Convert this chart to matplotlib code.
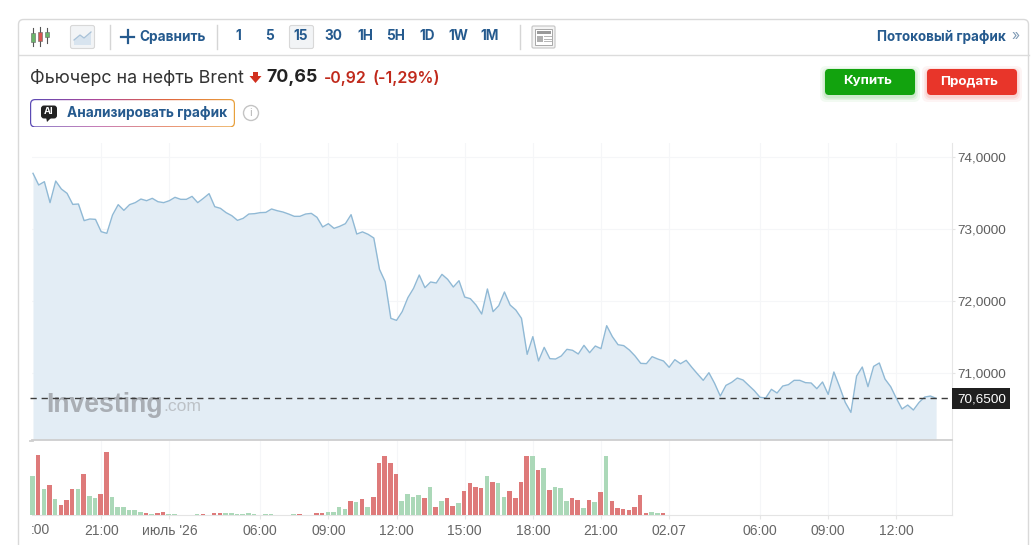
import matplotlib
matplotlib.use("Agg")
import numpy as np
from matplotlib import pyplot as plt
from matplotlib.patches import FancyBboxPatch, Rectangle, Circle, Polygon

W, H = 1031, 545
plt.rcParams['font.family'] = ['Inter', 'DejaVu Sans']

prices = [
    73.773, 73.611, 73.657, 73.366, 73.666, 73.555, 73.495, 73.342, 73.347, 73.116,
    73.139, 73.134, 72.963, 72.940, 73.194, 73.338, 73.259, 73.338, 73.366, 73.416,
    73.393, 73.426, 73.379, 73.366, 73.393, 73.440, 73.412, 73.412, 73.453, 73.366,
    73.426, 73.491, 73.310, 73.287, 73.227, 73.185, 73.120, 73.148, 73.208, 73.213,
    73.227, 73.231, 73.278, 73.254, 73.236, 73.208, 73.176, 73.176, 73.208, 73.217,
    73.162, 73.028, 73.074, 73.009, 73.037, 73.074, 73.199, 72.930, 72.960, 72.926,
    72.875, 72.440, 72.268, 71.759, 71.731, 71.852, 72.046, 72.176, 72.361, 72.185,
    72.264, 72.250, 72.370, 72.301, 72.194, 72.282, 72.055, 72.032, 71.944, 71.819,
    72.167, 71.852, 71.935, 72.125, 71.944, 71.875, 71.759, 71.259, 71.505, 71.167,
    71.356, 71.199, 71.194, 71.236, 71.329, 71.315, 71.264, 71.384, 71.282, 71.375,
    71.338, 71.657, 71.505, 71.393, 71.380, 71.319, 71.236, 71.134, 71.130, 71.227,
    71.194, 71.167, 71.079, 71.185, 71.129, 71.176, 71.078, 70.986, 70.898, 71.004,
    70.856, 70.680, 70.828, 70.870, 70.930, 70.903, 70.828, 70.754, 70.662, 70.653,
    70.773, 70.722, 70.819, 70.838, 70.898, 70.898, 70.866, 70.861, 70.782, 70.875,
    70.703, 71.014, 70.810, 70.592, 70.453, 70.958, 71.083, 70.810, 71.092, 71.139,
    70.916, 70.810, 70.648, 70.500, 70.555, 70.486, 70.592, 70.666, 70.680, 70.648,
]
volumes = [
    114, 177, 75, 87, 46, 29, 42, 75, 75, 120, 55, 48, 62, 187, 53, 21, 22, 12, 12, 8,
    5, 2, 5, 8, 1, 2, 0, 0, 0, 1, 1, 0, 5, 5, 5, 5, 2, 1, 4, 2,
    0, 1, 1, 0, 0, 0, 2, 1, 0, 0, 5, 5, 8, 8, 22, 17, 39, 36, 45, 22,
    53, 154, 174, 154, 120, 39, 62, 52, 59, 49, 82, 22, 39, 49, 26, 33, 69, 93, 83, 80,
    114, 96, 93, 53, 69, 49, 96, 174, 174, 134, 140, 72, 82, 79, 39, 49, 42, 18, 42, 36,
    66, 174, 39, 19, 15, 12, 22, 59, 5, 8, 3, 5,
]
# r = down bar, g = up bar, one letter per volume, 20 per row
vol_dirs = list(
    "grgrgrrrgrggrrgggggg"
    "rgrrggggggrrrrgggggg"
    "gggggggrggrrggggrgrg"
    "rrrrrggggrgrgrrgrrrr"
    "grggrrrrgrgrgggrrgrg"
    "rgrrrrrrrggr"
)

y_ticks = [74, 73, 72, 71]
y_labels = ['74,0000', '73,0000', '72,0000', '71,0000']
x_ticks = [12, 24, 40, 52, 64, 76, 88, 100, 112, 128, 140, 152]
x_labels = ['21:00', "июль '26", '06:00', '09:00', '12:00', '15:00', '18:00', '21:00',
            '02.07', '06:00', '09:00', '12:00']
last_price = 70.65
period_labels = ['1', '5', '15', '30', '1H', '5H', '1D', '1W', '1M']
period_x = [238, 270, 301, 333, 365, 396, 427, 458, 490]

BLUE = '#255a8e'
GRID = '#f5f6f8'


def pixel_axes(fig, left, top, right, bottom):
    return fig.add_axes([left / W, 1 - bottom / H, (right - left) / W, (bottom - top) / H])


fig = plt.figure(figsize=(W / 100, H / 100), dpi=100, facecolor='white')

step = 5.68
x_left = (32 - 33) / step
x_right = (951.5 - 33) / step
idx = np.arange(len(prices))

# price panel
ax = pixel_axes(fig, 32, 143, 951.5, 440)
ax.set_xlim(x_left, x_right)
ax.set_ylim(74 - (440 - 157) / 72, 74 - (143 - 157) / 72)
ax.fill_between(idx, prices, ax.get_ylim()[0], color='#e3edf5', lw=0, zorder=2)
ax.plot(idx, prices, color='#90b9d5', lw=1.0, zorder=3)
ax.set_yticks(y_ticks)
ax.set_yticklabels(y_labels, family='Liberation Sans', fontsize=9.7, color='#5e5e5e')
ax.yaxis.tick_right()
ax.tick_params(axis='y', length=2.5, color='#e4e4e4', pad=2)
ax.set_xticks(x_ticks)
ax.tick_params(axis='x', length=0, labelbottom=False)
ax.grid(color=GRID, lw=0.8, zorder=1)
for s in ['top', 'left']:
    ax.spines[s].set_visible(False)
ax.spines['right'].set_color('#e6e6e6')
ax.spines['bottom'].set_color('#cfcfcf')
ax.spines['bottom'].set_linewidth(1.3)

# volume panel
vax = pixel_axes(fig, 32, 441, 951.5, 514.5)
vax.set_xlim(x_left, x_right)
vax.set_ylim(0, 220)
vol_colors = ['#de7a7a' if d == 'r' else '#abd8b8' for d in vol_dirs]
vax.bar(np.arange(len(volumes)) - 0.1, volumes, width=0.8, color=vol_colors, zorder=3, clip_on=False)
vax.set_xticks(x_ticks)
vax.set_xticklabels(x_labels, family='Liberation Sans', fontsize=10, color='#666666')
vax.set_yticks([])
vax.tick_params(axis='x', length=3, color='#e6e6e6', pad=4)
vax.grid(axis='x', color=GRID, lw=0.8, zorder=1)
for s in ['top', 'left']:
    vax.spines[s].set_visible(False)
vax.spines['right'].set_color('#e6e6e6')
vax.spines['bottom'].set_color('#e4e4e4')

# everything around the chart, in pixels
ui = fig.add_axes([0, 0, 1, 1], facecolor='none', zorder=5)
ui.set_xlim(0, W)
ui.set_ylim(H, 0)
ui.axis('off')

ui.add_patch(FancyBboxPatch((18.5, 19.5), 1010, 600, boxstyle='round,pad=0,rounding_size=5',
                            fc='none', ec='#d9d9d9', lw=1))
ui.plot([19, 1029], [54.5, 54.5], color='#dcdcdc', lw=1)
ui.plot([30, 33], [440.5, 440.5], color='#cfcfcf', lw=1.3)

# candle icon
for cx, y0, y1, b0, b1, c in [(33, 28, 46, 33, 42, '#6ab56a'), (40, 27, 46, 32, 41, '#d9534f'),
                              (47, 28, 43, 32, 37, '#6ab56a')]:
    ui.plot([cx, cx], [y0, y1], color='#555555', lw=0.8)
    ui.add_patch(Rectangle((cx - 2, b0), 4, b1 - b0, fc=c, ec='#666666', lw=0.4, zorder=3))

# line chart icon
ui.add_patch(FancyBboxPatch((70.5, 25.5), 24, 23, boxstyle='round,pad=0,rounding_size=2',
                            fc='#f2f4f6', ec='#d8d8d8', lw=0.8))
ui.add_patch(Polygon([(74, 40), (80, 35), (84, 38), (91, 32), (91, 45), (74, 45)], fc='#d8e4ef', ec='none'))
ui.plot([74, 80, 84, 91], [40, 35, 38, 32], color='#a9c2d8', lw=0.9)

ui.plot([109.5, 109.5], [25, 49], color='#d5d5d5', lw=1)
ui.plot([121, 134], [36.5, 36.5], color=BLUE, lw=1.6)
ui.plot([127.5, 127.5], [30, 43], color=BLUE, lw=1.6)
ui.text(139, 36.5, 'Сравнить', fontsize=9.8, fontweight='bold', color=BLUE, va='center')
ui.plot([216.5, 216.5], [25, 49], color='#d5d5d5', lw=1)

ui.add_patch(FancyBboxPatch((289.5, 25.5), 24, 23, boxstyle='round,pad=0,rounding_size=2',
                            fc='#f2f4f6', ec='#d8d8d8', lw=0.8))
for px, lab in zip(period_x, period_labels):
    ui.text(px, 36.5, lab, fontsize=9.8, fontweight='bold', color=BLUE, ha='center', va='center')
ui.plot([519.5, 519.5], [25, 49], color='#d5d5d5', lw=1)

# layout icon
ui.add_patch(FancyBboxPatch((532, 26), 23, 22, boxstyle='round,pad=0,rounding_size=1.5',
                            fc='#f4f4f4', ec='#c9c9c9', lw=0.9))
ui.add_patch(Rectangle((535, 29), 17, 16, fc='white', ec='#a8a8a8', lw=0.7))
ui.add_patch(Rectangle((536.5, 30.5), 14, 3.5, fc='#9a9a9a', ec='none'))
ui.add_patch(Rectangle((536.5, 35.5), 6, 6.5, fc='#b0b0b0', ec='none'))
for yy in [36, 38.5, 41]:
    ui.plot([544, 550.5], [yy, yy], color='#b5b5b5', lw=0.7)

ui.text(1006, 36.5, 'Потоковый график', fontsize=9.7, fontweight='bold', color=BLUE, ha='right', va='center')
ui.text(1016, 36, '»', fontsize=10, color='#7f9ab5', ha='center', va='center')

# quote line
ui.text(30, 78, 'Фьючерс на нефть Brent', fontsize=12.85, color='#333333', va='center')
ui.add_patch(Polygon([(253, 72), (258, 72), (258, 76), (261.5, 76), (255.5, 83), (249.5, 76), (253, 76)],
                     fc='#d1301f', ec='none'))
ui.text(266, 78, '70,65', fontsize=12.8, fontweight='bold', color='#222222', va='center')
ui.text(324, 78, '-0,92', fontsize=11.4, fontweight='semibold', color='#c0291b', va='center')
ui.text(373, 78, '(-1,29%)', fontsize=11.5, fontweight='semibold', color='#c0291b', va='center')

# buttons
for bx, bw, col, lab in [(825, 90, '#12a30e', 'Купить'), (927, 90, '#e8352a', 'Продать')]:
    for grow, alpha in [(5, 0.05), (3, 0.07), (1.5, 0.1)]:
        ui.add_patch(FancyBboxPatch((bx - grow, 69 + 2 - grow), bw + 2 * grow, 26 + 2 * grow,
                                    boxstyle='round,pad=0,rounding_size=6', fc=col, ec='none', alpha=alpha))
    ui.add_patch(FancyBboxPatch((bx, 69), bw, 26, boxstyle='round,pad=0,rounding_size=4', fc=col, ec='none'))
    ui.text(bx + bw / 2 - 2.5, 81.5, lab, fontsize=9.6, fontweight='bold', color='white', ha='center', va='center')

# AI button with gradient border
frame = FancyBboxPatch((30, 99), 205, 28.5, boxstyle='round,pad=0,rounding_size=5',
                       fc='none', ec='none', transform=ui.transData)
ui.add_patch(frame)
grad = np.linspace(0, 1, 256).reshape(1, -1)
cmap = matplotlib.colors.LinearSegmentedColormap.from_list('ai', ['#5b4bb5', '#b0479a', '#e0663f', '#e9a13c'])
im = ui.imshow(grad, extent=(30, 235, 127.5, 99), cmap=cmap, aspect='auto', zorder=2)
im.set_clip_path(frame)
ui.set_xlim(0, W)
ui.set_ylim(H, 0)
ui.add_patch(FancyBboxPatch((31.2, 100.2), 202.6, 26.1, boxstyle='round,pad=0,rounding_size=4',
                            fc='white', ec='none', zorder=3))
ui.add_patch(FancyBboxPatch((41, 105.5), 16, 13, boxstyle='round,pad=0,rounding_size=3',
                            fc='#222222', ec='none', zorder=4))
ui.add_patch(Polygon([(46, 117), (52, 117), (47, 122)], fc='#222222', ec='none', zorder=4))
ui.text(49, 112, 'AI', fontsize=6.8, fontweight='bold', color='white', ha='center', va='center', zorder=5)
ui.text(67, 113.5, 'Анализировать график', fontsize=9.85, fontweight='bold', color=BLUE, va='center', zorder=4)
ui.add_patch(Circle((251, 113), 7.5, fc='white', ec='#c4c4c4', lw=1))
ui.text(251, 113.5, 'i', fontsize=8, color='#b5b5b5', ha='center', va='center')

# watermark, then the last price line over it
ui.text(46, 405, 'Investing', family='Liberation Sans', fontsize=19.2, fontweight='bold',
        color='#a9aeb4', va='center', zorder=1)
ui.text(163, 406.5, '.com', family='Liberation Sans', fontsize=12.6, color='#bcc1c6', va='center', zorder=1)
ui.plot([30, 951], [398.2, 398.2], color='#3c3c3c', lw=1, dashes=(4.5, 3.5), zorder=2)

# last price tag
ui.add_patch(Rectangle((951.5, 388), 58.5, 21, fc='#1f1f1f', ec='none'))
ui.text(982, 399, '70,6500', family='Liberation Sans', fontsize=9.7, color='white', ha='center', va='center')

# first time label is cut by the left edge of the chart
ui.text(31, 530, ':00', family='Liberation Sans', fontsize=10, color='#666666', va='center')

fig.savefig('out.png', dpi=100)
